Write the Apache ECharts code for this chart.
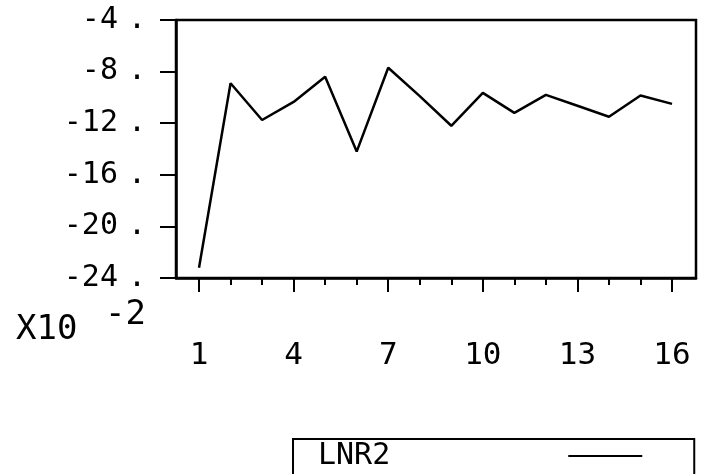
<!DOCTYPE html>
<html>
<head>
<meta charset="utf-8">
<script src="https://cdn.jsdelivr.net/npm/echarts@6/dist/echarts.min.js"></script>
<style>
  html, body { margin: 0; padding: 0; background: #fff; }
  #chart { width: 710px; height: 474px; }
</style>
</head>
<body>
<div id="chart"></div>
<script>
// data, in units of 10^-2
var periods = [1, 2, 3, 4, 5, 6, 7, 8, 9, 10, 11, 12, 13, 14, 15, 16];
var lnr2 = [-23.2, -8.9, -11.75, -10.35, -8.4, -14.2, -7.7, -9.9, -12.2, -9.65, -11.2, -9.8, -10.65, -11.5, -9.85, -10.5];
var majorTicks = [1, 4, 7, 10, 13, 16];
var minorTicks = [2, 3, 5, 6, 8, 9, 11, 12, 14, 15];

var font = 'DejaVu Sans Mono';

var chart = echarts.init(document.getElementById('chart'));
chart.setOption({
    animation: false,
    backgroundColor: '#fff',
    grid: {
        left: 176,
        top: 20,
        right: 14,
        bottom: 196,
        show: true,
        borderColor: '#000',
        borderWidth: 2.5
    },
    xAxis: [{
        type: 'value',
        min: 0.27,
        max: 16.76,
        position: 'bottom',
        axisLine: { show: true, lineStyle: { color: '#000', width: 2.5 } },
        axisTick: {
            show: true,
            customValues: majorTicks,
            length: 14,
            lineStyle: { color: '#000', width: 2 }
        },
        axisLabel: {
            customValues: majorTicks,
            margin: 62,
            fontFamily: font,
            fontSize: 31,
            color: '#000'
        },
        splitLine: { show: false }
    }, {
        type: 'value',
        min: 0.27,
        max: 16.76,
        position: 'bottom',
        axisLine: { show: false },
        axisTick: {
            show: true,
            customValues: minorTicks,
            length: 7,
            lineStyle: { color: '#000', width: 2 }
        },
        axisLabel: { show: false },
        splitLine: { show: false }
    }],
    yAxis: {
        type: 'value',
        min: -24,
        max: -4,
        interval: 4,
        axisLine: { show: true, lineStyle: { color: '#000', width: 2.5 } },
        axisTick: { show: true, length: 16, lineStyle: { color: '#000', width: 2 } },
        axisLabel: {
            margin: 30,
            formatter: function (v) { return '{v|' + v + '}{d|.}'; },
            rich: {
                v: { fontFamily: font, fontSize: 30, color: '#000' },
                d: { fontFamily: font, fontSize: 30, color: '#000', padding: [0, 0, 0, 10] }
            }
        },
        splitLine: { show: false }
    },
    legend: {
        left: 293,
        top: 439,
        orient: 'horizontal',
        align: 'right',
        selectedMode: false,
        borderColor: '#000',
        borderWidth: 2,
        padding: [2, 52, 20, 25],
        icon: 'rect',
        itemWidth: 74,
        itemHeight: 2,
        itemStyle: { color: '#000' },
        formatter: '{a|{name}}',
        textStyle: {
            rich: {
                a: { fontFamily: font, fontSize: 30, color: '#000', padding: [0, 173, 0, 0] }
            }
        },
        data: ['LNR2']
    },
    graphic: [{
        type: 'text',
        left: 16,
        top: 313,
        style: { text: 'X10', font: '34px "DejaVu Sans Mono"', fill: '#000' }
    }, {
        type: 'text',
        left: 105,
        top: 298,
        style: { text: '-2', font: '34px "DejaVu Sans Mono"', fill: '#000' }
    }],
    series: [{
        name: 'LNR2',
        type: 'line',
        symbol: 'none',
        lineStyle: { color: '#000', width: 2.5 },
        itemStyle: { color: '#000' },
        data: periods.map(function (p, i) { return [p, lnr2[i]]; })
    }]
});
</script>
</body>
</html>
